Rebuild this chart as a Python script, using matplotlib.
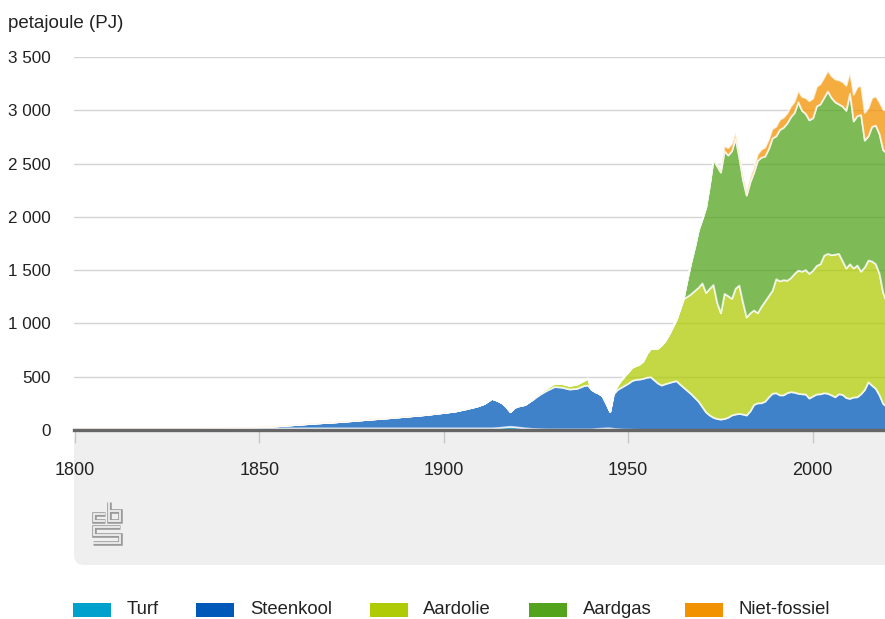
import numpy as np
import matplotlib
matplotlib.use("Agg")
import matplotlib.pyplot as plt
from matplotlib.patches import FancyBboxPatch, Rectangle
from matplotlib.lines import Line2D

plt.rcParams['font.family'] = ['Liberation Sans', 'DejaVu Sans']

# ---------------- data (PJ) ----------------
years = [1800, 1810, 1820, 1830, 1840, 1850, 1855, 1860, 1865, 1870, 1875, 1880, 1885,
         1890, 1895, 1900, 1903, 1906, 1909, 1911, 1913, 1914, 1915, 1916, 1917, 1918,
         1919, 1920, 1922, 1924, 1926, 1928, 1930, 1932, 1934, 1936, 1938, 1939] + \
        list(range(1940, 2021))

turf = [15, 15, 16, 17, 18, 20, 20, 20, 20, 20, 20, 20, 20,
        20, 20, 20, 20, 20, 20, 20, 20, 22, 25, 28, 32, 35,
        32, 28, 20, 15, 12, 10, 10, 10, 10, 10, 10, 10,
        # 1940-1963
        10, 14, 16, 18, 20, 20, 15, 12, 10, 8, 8, 7, 6, 6, 5, 5, 4, 4, 3, 3, 2, 2, 1, 1] + [0] * 57

steenkool = [0, 0, 0, 1, 4, 10, 20, 32, 45, 55, 68, 82, 95,
             110, 125, 145, 158, 180, 205, 230, 277, 263, 245, 222, 183, 137,
             178, 197, 220, 270, 323, 365, 398, 392, 375, 380, 408, 412,
             # 1940-1979
             370, 346, 329, 302, 230, 155, 325, 368, 390, 412,
             432, 458, 469, 472, 480, 490, 496, 466, 437, 419,
             433, 443, 454, 462, 430, 400, 370, 340, 305, 270,
             220, 170, 141, 120, 108, 103, 108, 120, 141, 150,
             # 1980-2020
             156, 150, 141, 180, 240, 255, 256, 270, 310, 345,
             350, 330, 330, 350, 360, 355, 345, 340, 338, 300,
             320, 338, 340, 350, 345, 330, 312, 340, 335, 305,
             297, 310, 312, 340, 380, 453, 420, 391, 330, 250,
             220]

aardolie = [0] * 29 + [5, 15, 25, 32, 35, 35, 40, 50, 65,
            # 1940-1979
            5, 0, 0, 0, 0, 0, 20, 40, 70, 90,
            110, 125, 130, 142, 165, 225, 265, 296, 330, 378,
            405, 455, 515, 577, 710, 835, 885, 940, 1005, 1070,
            1160, 1120, 1189, 1245, 1092, 997, 1174, 1140, 1094, 1180,
            # 1980-2020
            1204, 1050, 919, 920, 886, 845, 904, 940, 950, 965,
            1070, 1070, 1080, 1055, 1070, 1115, 1155, 1150, 1167, 1170,
            1180, 1207, 1220, 1290, 1312, 1315, 1338, 1317, 1255, 1215,
            1263, 1210, 1236, 1150, 1150, 1142, 1165, 1169, 1140, 1040,
            980]

aardgas = [0] * 38 + [0] * 25 + [
            # 1965-1979
            15, 165, 300, 410, 540,
            600, 800, 970, 1175, 1280, 1320, 1338, 1320, 1385, 1410,
            # 1980-2020
            1200, 1150, 1144, 1230, 1294, 1430, 1400, 1360, 1380, 1430,
            1340, 1420, 1430, 1475, 1510, 1510, 1580, 1510, 1465, 1440,
            1430, 1495, 1500, 1480, 1523, 1475, 1430, 1403, 1450, 1480,
            1600, 1380, 1402, 1470, 1190, 1165, 1265, 1300, 1310, 1340,
            1400]

niet_fossiel = [4, 4, 4, 4, 4, 4, 4, 4, 4, 4, 4, 4, 4,
                4, 3, 2] + [0] * 22 + [0] * 34 + [
                # 1974-1979
                15, 25, 50, 70, 70, 55,
                # 1980-2020
                45, 45, 45, 50, 55, 60, 75, 85, 90, 90,
                90, 95, 95, 95, 100, 105, 110, 130, 150, 180,
                185, 185, 190, 190, 195, 205, 215, 225, 230, 235,
                200, 250, 270, 275, 260, 265, 270, 275, 300, 380,
                400]

labels = ['Turf', 'Steenkool', 'Aardolie', 'Aardgas', 'Niet-fossiel']
colors = ['#00a1cd', '#0058b8', '#afcb05', '#53a31d', '#f39200']
y_ticks = [0, 500, 1000, 1500, 2000, 2500, 3000, 3500]
y_ticklabels = ['0', '500', '1 000', '1 500', '2 000', '2 500', '3 000', '3 500']
x_ticks = [1800, 1850, 1900, 1950, 2000]

series = [turf, steenkool, aardolie, aardgas, niet_fossiel]
for s in series:
    assert len(s) == len(years), (len(s), len(years))

# ---------------- figure ----------------
W, H = 885, 619
fig = plt.figure(figsize=(W / 100, H / 100), dpi=100)
fig.patch.set_facecolor('white')
T = fig.dpi_scale_trans


def P(x, y):
    return x / 100.0, (H - y) / 100.0


# grey panel under the x-axis
box = FancyBboxPatch(P(74, 565), 9.0, (565 - 430) / 100.0,
                     boxstyle="round,pad=0,rounding_size=0.1",
                     transform=T, fc='#efefef', ec='none', zorder=0)
fig.add_artist(box)

ax = fig.add_axes([74 / W, (H - 430) / H, (W - 74) / W, (430 - 57) / H])
ax.set_facecolor('none')

ax.stackplot(years, *series, colors=colors, alpha=0.75,
             edgecolor='white', linewidth=1.3, zorder=2)

ax.set_xlim(1799.8, 2019.6)
ax.set_ylim(0, 3500)
ax.set_yticks(y_ticks)
ax.set_yticklabels(y_ticklabels)
ax.set_xticks(x_ticks)
ax.set_xticklabels([str(x) for x in x_ticks])

ax.grid(axis='y', color='#d4d4d4', linewidth=1.0, zorder=1)
ax.set_axisbelow(True)
for side in ['top', 'right', 'left']:
    ax.spines[side].set_visible(False)
ax.spines['bottom'].set_color('#666666')
ax.spines['bottom'].set_linewidth(2.4)
ax.spines['bottom'].set_zorder(5)

ax.tick_params(axis='y', length=0, pad=17, labelsize=12.3, labelcolor='#222222')
ax.tick_params(axis='x', direction='out', length=9, width=1, color='#c8c8c8',
               pad=14, labelsize=13, labelcolor='#222222')
for lab in ax.get_yticklabels():
    lab.set_horizontalalignment('right')

fig.text(8 / W, 1 - 23 / H, 'petajoule (PJ)', fontsize=13.5,
         color='#222222', ha='left', va='center')

# CBS logo (outlined glyph)
logo_paths = [
    [(105, 513.5), (93.5, 513.5), (93.5, 520.5), (105, 520.5)],
    [(108.5, 502), (108.5, 520.5), (120, 520.5), (120, 511), (108.5, 511)],
    [(120, 526.5), (93.5, 526.5), (93.5, 534.5), (119.5, 534.5), (119.5, 543), (93, 543)],
]
for path in logo_paths:
    xs = [p[0] / 100.0 for p in path]
    ys = [(H - p[1]) / 100.0 for p in path]
    fig.add_artist(Line2D(xs, ys, transform=T, color='#9a9a9a', lw=3.3,
                          solid_joinstyle='miter', solid_capstyle='butt', zorder=3))
    fig.add_artist(Line2D(xs, ys, transform=T, color='#efefef', lw=1.3,
                          solid_joinstyle='miter', solid_capstyle='butt', zorder=4))

# legend
sw_x = [73, 196, 370, 529, 685]
tx_x = [127, 250, 423, 583, 738]
for i in range(5):
    fig.add_artist(Rectangle(P(sw_x[i], 617), 38 / 100.0, 14 / 100.0, transform=T,
                             fc=colors[i], ec='none'))
    fig.text(tx_x[i] / W, 1 - 610 / H, labels[i], fontsize=13.3, color='#222222',
             ha='left', va='center')

fig.savefig('out.png', dpi=100, facecolor='white')
